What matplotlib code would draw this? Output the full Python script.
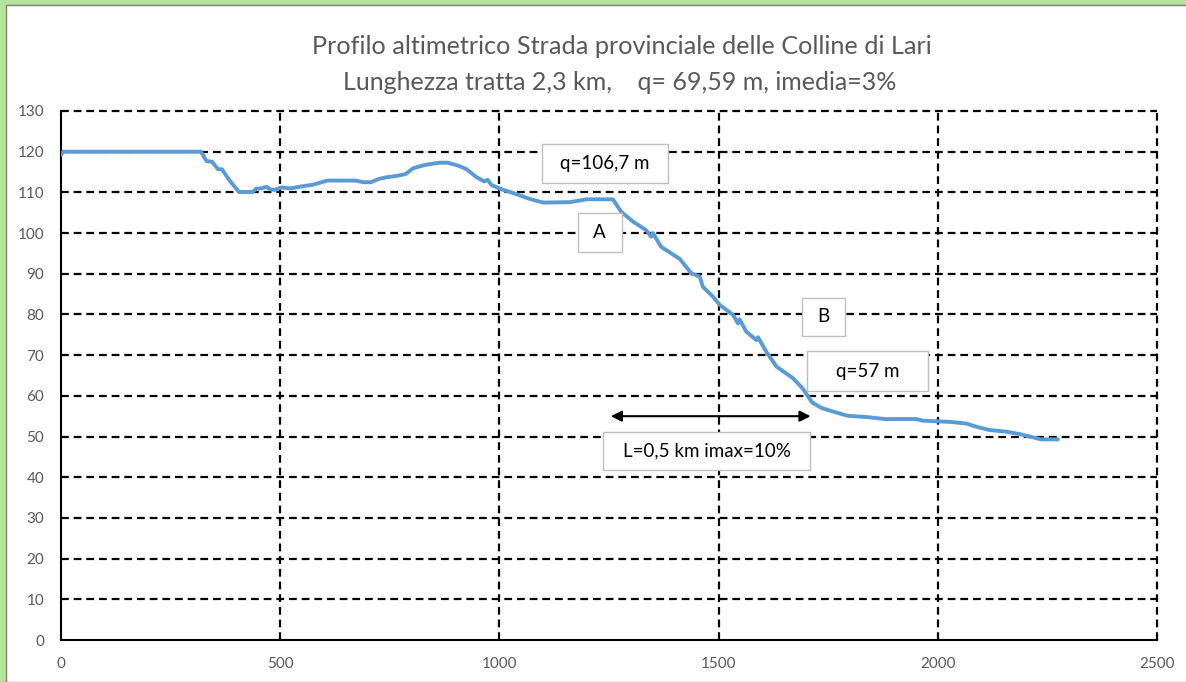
import matplotlib
matplotlib.use("Agg")
import matplotlib.pyplot as plt
from matplotlib.patches import Rectangle

# ---- data ----
dist = [0, 5, 319, 332, 345, 358, 367, 384, 406, 437, 445, 458, 469, 476, 487, 502,
        524, 550, 576, 607, 672, 690, 707, 725, 742, 768, 786, 803, 821, 838, 864,
        882, 908, 925, 947, 965, 973, 982, 1004, 1035, 1069, 1100, 1161, 1199, 1259,
        1278, 1305, 1335, 1346, 1350, 1369, 1411, 1438, 1457, 1464, 1487, 1503, 1533,
        1544, 1548, 1563, 1586, 1590, 1609, 1632, 1670, 1692, 1713, 1735, 1765, 1795,
        1837, 1880, 1951, 1966, 2027, 2065, 2088, 2118, 2156, 2187, 2217, 2236, 2274]
quota = [119.2, 120, 120, 117.7, 117.5, 115.7, 115.7, 113.0, 110.1, 110.1, 110.9, 111.0,
         111.4, 110.8, 110.6, 111.2, 111.0, 111.5, 111.9, 112.9, 112.9, 112.5, 112.5,
         113.3, 113.7, 114.1, 114.5, 115.9, 116.5, 116.9, 117.3, 117.3, 116.5, 115.7,
         113.8, 112.7, 113.1, 111.8, 110.8, 109.7, 108.4, 107.5, 107.6, 108.3, 108.3,
         105.2, 102.8, 100.7, 99.1, 100.0, 96.6, 93.7, 90.1, 89.3, 86.8, 84.4, 82.3,
         79.9, 77.8, 78.8, 75.8, 73.7, 74.4, 70.8, 67.2, 64.3, 61.8, 58.4, 57.0, 56.0,
         55.1, 54.8, 54.3, 54.3, 53.9, 53.6, 53.2, 52.4, 51.6, 51.2, 50.6, 49.8, 49.3, 49.3]

x_ticks = [0, 500, 1000, 1500, 2000, 2500]
y_ticks = [0, 10, 20, 30, 40, 50, 60, 70, 80, 90, 100, 110, 120, 130]

title_lines = ["Profilo altimetrico Strada provinciale delle Colline di Lari",
               "Lunghezza tratta 2,3 km,    q= 69,59 m, imedia=3%"]

# annotation labels: (text, x center, y center, box width, box height) in data units
labels = [("q=106,7 m", 1240, 117.2, 287, 9.6),
          ("A", 1229, 100.1, 100, 9.6),
          ("B", 1740, 79.4, 98, 9.4),
          ("q=57 m", 1840, 66.1, 276, 9.6),
          ("L=0,5 km imax=10%", 1473, 46.4, 472, 9.3)]
arrow_x = [1254, 1710]
arrow_y = 55

# ---- figure ----
plt.rcParams['font.family'] = ['Lato', 'DejaVu Sans']
fig = plt.figure(figsize=(11.86, 6.82), dpi=100)
fig.patch.set_facecolor('#B5E39C')
fig.patches.append(Rectangle((6 / 1186, 0), 1, 1 - 5 / 682, transform=fig.transFigure,
                             facecolor='white', edgecolor='#7F7F7F', linewidth=1.0,
                             zorder=-10))

ax = fig.add_axes([61 / 1186, 1 - 640 / 682, (1157 - 61) / 1186, (640 - 111) / 682])
ax.set_facecolor('none')
ax.set_xlim(0, 2500)
ax.set_ylim(0, 130)
ax.set_xticks(x_ticks)
ax.set_yticks(y_ticks)
ax.tick_params(length=0, labelsize=11, labelcolor='#595959')
ax.tick_params(axis='y', pad=12)
ax.tick_params(axis='x', pad=12)

for s in ['top', 'right']:
    ax.spines[s].set_visible(False)
for s in ['left', 'bottom']:
    ax.spines[s].set_color('black')
    ax.spines[s].set_linewidth(1.5)

for yv in y_ticks[1:]:
    ax.axhline(yv, color='black', lw=1.6, ls=(0, (3.5, 2.2)), zorder=1, clip_on=False)
for xv in x_ticks[1:]:
    ax.axvline(xv, color='black', lw=1.6, ls=(0, (3.5, 2.2)), zorder=1, clip_on=False)

ax.plot(dist, quota, color='#5B9BD5', lw=2.8, zorder=3, solid_capstyle='round',
        solid_joinstyle='round')

for txt, cx, cy, w, h in labels:
    ax.add_patch(Rectangle((cx - w / 2, cy - h / 2), w, h, facecolor='white',
                           edgecolor='#BFBFBF', lw=1.0, zorder=4))
    ax.text(cx, cy, txt, ha='center', va='center', fontsize=13.5, color='black',
            zorder=5)

ax.annotate('', xy=(arrow_x[1], arrow_y), xytext=(arrow_x[0], arrow_y),
            arrowprops=dict(arrowstyle='<|-|>', color='black', lw=1.5,
                            mutation_scale=16, shrinkA=0, shrinkB=0), zorder=5)

fig.text(622 / 1186, 1 - 47 / 682, title_lines[0], ha='center', va='center',
         fontsize=18.2, color='#595959')
fig.text(620 / 1186, 1 - 82 / 682, title_lines[1], ha='center', va='center',
         fontsize=18.0, color='#595959')

fig.savefig('out.png', dpi=100, facecolor=fig.get_facecolor())
